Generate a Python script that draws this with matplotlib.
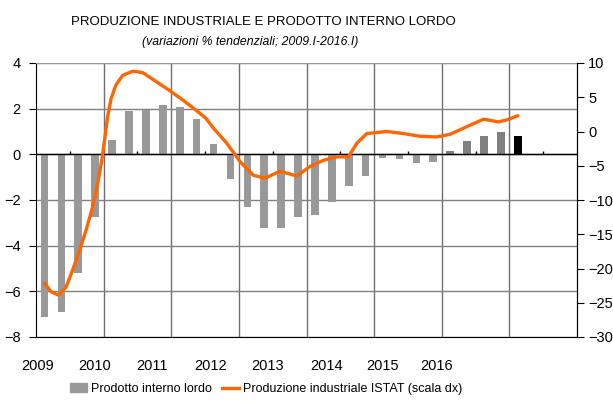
import numpy as np
import matplotlib.pyplot as plt
from matplotlib.patches import Patch
from matplotlib.lines import Line2D

plt.rcParams['font.family'] = ['Liberation Sans', 'DejaVu Sans']

# PIL, variazioni % tendenziali, trimestrali 2009.I - 2016.I (scala sx)
pil = [-7.14, -6.92, -5.21, -2.73,
       0.63, 1.90, 1.94, 2.16,
       2.06, 1.53, 0.45, -1.10,
       -2.32, -3.21, -3.21, -2.73,
       -2.66, -2.07, -1.39, -0.94,
       -0.18, -0.22, -0.40, -0.35,
       0.14, 0.58, 0.82, 0.99,
       0.82]
pil_colors = ['#999999'] * 24 + ['#808080'] * 4 + ['#000000']

# produzione industriale ISTAT (scala dx) (t in trimestri da 2009.I)
prod_t = [0.0, 0.39, 0.84, 1.28, 1.67, 2.06, 2.46, 2.85, 3.15, 3.39, 3.58, 3.74,
          3.94, 4.23, 4.63, 5.22, 5.81, 6.60, 7.39, 8.18, 8.97, 9.56, 9.99,
          10.78, 11.57, 12.36, 13.05, 13.94, 14.93, 15.71, 16.50, 17.29, 17.98,
          18.48, 19.07, 20.25, 21.23, 22.22, 23.21, 24.0, 24.98, 25.97, 26.86,
          27.35, 28.0]
prod_v = [-22.1, -23.4, -23.9, -22.7, -20.2, -17.5, -14.4, -11.0, -7.6, -4.2, -0.8, 2.2,
          4.8, 6.8, 8.2, 8.8, 8.6, 7.3, 6.0, 4.6, 3.1, 1.9, 0.5,
          -1.7, -4.4, -6.4, -6.8, -5.8, -6.5, -5.1, -4.2, -3.7, -3.7,
          -1.7, -0.3, 0.0, -0.3, -0.7, -0.8, -0.4, 0.7, 1.8, 1.4,
          1.7, 2.3]

years = ['2009', '2010', '2011', '2012', '2013', '2014', '2015', '2016']
year_pos = [-0.38, 2.99, 6.36, 9.85, 13.2, 16.66, 20.0, 23.2]

fig = plt.figure(figsize=(6.13, 4.01), dpi=100)
ax = fig.add_axes([36/613, 1-337/401, 541/613, 274/401])

x = np.arange(len(pil))
ax.bar(x, pil, width=0.45, color=pil_colors, zorder=2)

ax.set_xlim(-0.5, 31.5)
ax.set_ylim(-8, 4)
ax.set_yticks(range(-8, 5, 2))
ax.set_axisbelow(True)
ax.grid(axis='y', color='#808080', lw=1)
for b in np.arange(3.5, 31, 4):
    ax.axvline(b, color='#707070', lw=1, zorder=0)
ax.axhline(0, color='black', lw=1, zorder=3)
ax.vlines(np.arange(1.5, 32, 4), 0, 0.14, color='black', lw=1, zorder=3)

ax.set_xticks(year_pos, years)
ax.tick_params(axis='x', length=0, pad=16, labelsize=10.5)
ax.tick_params(axis='y', length=5, direction='out', pad=6, labelsize=10.5)
ax.spines['top'].set_color('#999999')
for s in ['left', 'bottom', 'right']:
    ax.spines[s].set_color('black')

ax2 = ax.twinx()
ax2.plot(prod_t, prod_v, color='#FF6600', lw=2.4, solid_capstyle='round', zorder=4)
ax2.set_ylim(-30, 10)
ax2.set_yticks(range(-30, 11, 5))
ax2.tick_params(axis='y', length=5, direction='out', pad=3, labelsize=10.5)
ax2.spines['top'].set_visible(False)
ax2.spines['left'].set_visible(False)
ax2.spines['bottom'].set_visible(False)
ax2.spines['right'].set_color('black')

fig.text(263/613, 1-22/401, 'PRODUZIONE INDUSTRIALE E PRODOTTO INTERNO LORDO',
         ha='center', va='center', fontsize=9.5)
fig.text(250/613, 1-42/401, '(variazioni % tendenziali; 2009.I-2016.I)',
         ha='center', va='center', fontsize=8.8, style='italic')

handles = [Patch(color='#999999'), Line2D([], [], color='#FF6600', lw=2.4)]
fig.legend(handles, ['Prodotto interno lordo', 'Produzione industriale ISTAT (scala dx)'],
           loc='center', bbox_to_anchor=(266/613, 1-389/401), ncol=2, frameon=False,
           fontsize=9, handlelength=1.4, handletextpad=0.3, columnspacing=0.8)

fig.savefig('out.png', dpi=100)
